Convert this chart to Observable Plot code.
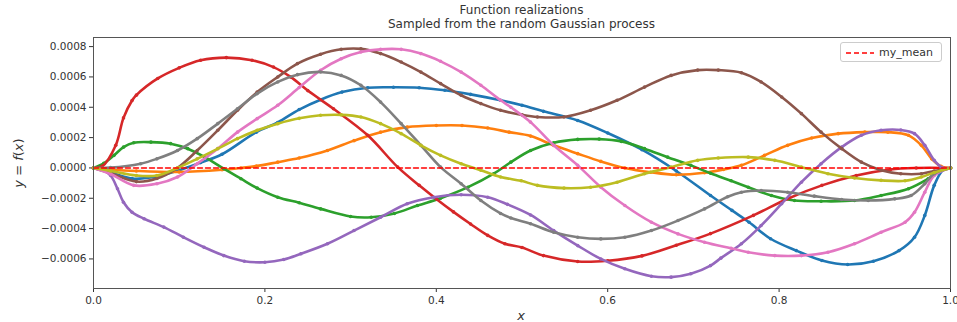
<!DOCTYPE html>
<html>
<head>
<meta charset="utf-8">
<script src="https://cdn.jsdelivr.net/npm/d3@7"></script>
<script src="https://cdn.jsdelivr.net/npm/@observablehq/plot@0.6"></script>
<style>
  html, body { margin: 0; padding: 0; background: #fff; }
  #wrap { position: relative; width: 957px; height: 322px; font-family: "DejaVu Sans", sans-serif; color: #333; }
  .title { position: absolute; left: 93px; width: 857px; text-align: center; font-size: 12px; line-height: 12px; height: 12px; color: #333; }
  .ylab { position: absolute; left: 18px; top: 163px; transform: translate(-50%, -50%) rotate(-90deg); font-size: 13px; white-space: nowrap; color: #333; }
  .xlab { position: absolute; left: 521px; top: 308px; transform: translateX(-50%); font-size: 13px; font-style: italic; color: #333; }
  .legend { position: absolute; left: 840px; top: 42px; width: 102px; height: 20px; border: 1px solid #ccc; border-radius: 3px; background: #fff; box-sizing: border-box; }
  .legend svg { position: absolute; left: 5px; top: 8px; }
  .legend span { position: absolute; left: 38px; top: 3px; font-size: 11px; color: #333; }
</style>
</head>
<body>
<div id="wrap"></div>
<script>
// values in units of 1e-4
const unit = 1e-4;
const blue = [[0,0],[0.02,-0.3],[0.045,-0.7],[0.07,-0.6],[0.1,-0.15],[0.125,0.35],[0.15,0.9],[0.19,2.36],[0.215,3.0],[0.24,3.85],[0.265,4.5],[0.29,5.0],[0.32,5.29],[0.35,5.32],[0.38,5.29],[0.41,5.12],[0.44,4.85],[0.475,4.46],[0.5,4.13],[0.525,3.73],[0.565,3.13],[0.6,2.3],[0.64,1.2],[0.68,-0.2],[0.72,-1.82],[0.745,-2.8],[0.765,-3.58],[0.79,-4.67],[0.82,-5.45],[0.85,-6.1],[0.88,-6.37],[0.91,-6.15],[0.94,-5.45],[0.958,-4.57],[0.97,-3.13],[0.981,-1.15],[0.991,-0.15],[1,0]];
const orange = [[0,0],[0.02,-0.1],[0.05,-0.2],[0.1,-0.27],[0.15,-0.12],[0.172,0],[0.19,0.12],[0.215,0.38],[0.24,0.65],[0.273,1.15],[0.304,1.8],[0.335,2.36],[0.366,2.69],[0.4,2.8],[0.43,2.8],[0.46,2.63],[0.485,2.36],[0.51,2.1],[0.537,1.49],[0.565,0.94],[0.592,0.43],[0.62,0],[0.65,-0.28],[0.68,-0.45],[0.713,-0.32],[0.735,-0.1],[0.756,0.17],[0.783,0.83],[0.81,1.49],[0.838,1.97],[0.869,2.26],[0.9,2.36],[0.927,2.36],[0.951,2.15],[0.966,1.49],[0.978,0.6],[0.989,0.1],[1,0]];
const green = [[0,0],[0.012,0.3],[0.024,0.83],[0.035,1.37],[0.047,1.66],[0.067,1.7],[0.09,1.6],[0.11,1.27],[0.13,0.71],[0.152,-0.05],[0.172,-0.71],[0.191,-1.33],[0.215,-1.93],[0.24,-2.3],[0.265,-2.7],[0.3,-3.2],[0.324,-3.25],[0.351,-3.0],[0.378,-2.48],[0.405,-2.0],[0.437,-1.27],[0.467,-0.38],[0.487,0.38],[0.51,1.15],[0.537,1.66],[0.565,1.88],[0.59,1.9],[0.616,1.75],[0.643,1.27],[0.67,0.71],[0.697,0.17],[0.72,-0.35],[0.744,-0.85],[0.764,-1.27],[0.791,-1.82],[0.818,-2.15],[0.849,-2.2],[0.888,-2.15],[0.919,-1.82],[0.951,-1.37],[0.974,-0.71],[0.989,-0.15],[1,0]];
const red = [[0,0],[0.01,0.1],[0.026,1.5],[0.035,3.3],[0.045,4.45],[0.05,4.8],[0.075,5.9],[0.1,6.6],[0.125,7.1],[0.155,7.27],[0.185,7.1],[0.21,6.65],[0.23,6.0],[0.25,5.1],[0.28,3.9],[0.32,2.15],[0.355,0.05],[0.38,-1.15],[0.4,-2.05],[0.42,-2.9],[0.44,-3.7],[0.46,-4.45],[0.48,-5.0],[0.5,-5.25],[0.525,-5.78],[0.565,-6.17],[0.6,-6.12],[0.64,-5.8],[0.68,-5.1],[0.72,-4.33],[0.77,-3.13],[0.81,-2.03],[0.85,-1.15],[0.89,-0.5],[0.93,-0.1],[0.96,0],[1,0]];
const purple = [[0,0],[0.01,-0.1],[0.02,-0.5],[0.028,-1.37],[0.035,-2.26],[0.045,-2.92],[0.059,-3.35],[0.082,-3.9],[0.105,-4.57],[0.129,-5.23],[0.152,-5.78],[0.176,-6.15],[0.2,-6.22],[0.222,-6.04],[0.242,-5.66],[0.273,-5.0],[0.304,-4.13],[0.335,-3.25],[0.366,-2.36],[0.397,-1.93],[0.429,-1.77],[0.46,-1.93],[0.483,-2.4],[0.51,-3.1],[0.537,-4.13],[0.565,-5.12],[0.592,-6.0],[0.62,-6.65],[0.651,-7.14],[0.674,-7.2],[0.697,-6.98],[0.72,-6.44],[0.732,-5.95],[0.756,-5.0],[0.779,-3.8],[0.803,-2.36],[0.826,-0.94],[0.849,0.28],[0.873,1.37],[0.896,2.15],[0.919,2.48],[0.942,2.5],[0.958,2.26],[0.97,1.49],[0.981,0.5],[0.991,0],[1,0]];
const brown = [[0,0],[0.02,-0.35],[0.05,-0.9],[0.074,-0.7],[0.098,0],[0.121,1.15],[0.145,2.48],[0.168,3.8],[0.191,5.0],[0.215,6.0],[0.238,6.88],[0.265,7.5],[0.289,7.82],[0.312,7.85],[0.335,7.54],[0.359,6.98],[0.382,6.32],[0.405,5.56],[0.429,4.79],[0.452,4.24],[0.475,3.8],[0.5,3.5],[0.518,3.36],[0.549,3.36],[0.58,3.8],[0.611,4.46],[0.643,5.33],[0.674,6.1],[0.705,6.45],[0.729,6.45],[0.756,6.28],[0.779,5.67],[0.803,4.68],[0.826,3.58],[0.849,2.36],[0.873,1.27],[0.896,0.38],[0.919,-0.15],[0.942,-0.38],[0.966,-0.38],[0.981,-0.2],[1,0]];
const pink = [[0,0],[0.02,-0.4],[0.047,-1.15],[0.074,-1.04],[0.098,-0.6],[0.121,0.28],[0.145,1.27],[0.168,2.36],[0.191,3.25],[0.215,4.13],[0.24,5.3],[0.265,6.44],[0.289,7.2],[0.312,7.64],[0.335,7.82],[0.359,7.82],[0.382,7.54],[0.405,7.03],[0.429,6.32],[0.452,5.45],[0.475,4.46],[0.487,4.0],[0.51,3.02],[0.537,1.49],[0.565,0.17],[0.592,-1.27],[0.62,-2.48],[0.651,-3.58],[0.682,-4.35],[0.713,-4.9],[0.744,-5.3],[0.764,-5.56],[0.795,-5.78],[0.826,-5.78],[0.857,-5.56],[0.888,-5.0],[0.919,-4.24],[0.947,-3.58],[0.958,-2.92],[0.97,-1.6],[0.981,-0.5],[1,0]];
const gray = [[0,0],[0.02,0.02],[0.055,0.28],[0.074,0.6],[0.098,1.15],[0.121,1.93],[0.145,2.92],[0.168,3.9],[0.191,4.9],[0.215,5.67],[0.238,6.15],[0.265,6.33],[0.289,6.1],[0.312,5.45],[0.335,4.34],[0.359,2.92],[0.382,1.49],[0.405,0.05],[0.429,-1.04],[0.452,-2.15],[0.475,-3.0],[0.487,-3.3],[0.51,-3.68],[0.537,-4.24],[0.565,-4.57],[0.592,-4.68],[0.62,-4.57],[0.651,-4.13],[0.682,-3.47],[0.713,-2.7],[0.74,-1.9],[0.756,-1.6],[0.779,-1.49],[0.81,-1.6],[0.841,-1.86],[0.873,-2.08],[0.904,-2.15],[0.935,-2.04],[0.954,-1.82],[0.97,-1.04],[0.981,-0.38],[1,0]];
const olive = [[0,0],[0.02,-0.2],[0.05,-0.5],[0.074,-0.5],[0.098,0],[0.121,0.6],[0.145,1.27],[0.168,1.93],[0.191,2.48],[0.215,2.92],[0.24,3.27],[0.265,3.47],[0.289,3.5],[0.312,3.36],[0.335,2.92],[0.359,2.26],[0.382,1.49],[0.405,0.83],[0.429,0.28],[0.452,-0.15],[0.475,-0.6],[0.499,-0.85],[0.518,-1.15],[0.549,-1.33],[0.58,-1.27],[0.611,-0.94],[0.643,-0.38],[0.674,0.05],[0.705,0.5],[0.729,0.65],[0.764,0.71],[0.795,0.5],[0.826,0.05],[0.857,-0.38],[0.888,-0.66],[0.919,-0.82],[0.947,-0.85],[0.966,-0.6],[0.981,-0.3],[1,0]];
const meanLine = [[0,0],[1,0]];

const seriesList = [blue, orange, green, red, purple, brown, pink, gray, olive];
const colors = ["#1f77b4","#ff7f0e","#2ca02c","#d62728","#9467bd","#8c564b","#e377c2","#7f7f7f","#bcbd22"];
const xTicks = [0, 0.2, 0.4, 0.6, 0.8, 1.0];
const yTicks = [-6e-4, -4e-4, -2e-4, 0, 2e-4, 4e-4, 6e-4, 8e-4];
const titleLines = ["Function realizations", "Sampled from the random Gaussian process"];

const marks = [];
seriesList.forEach((s, i) => {
  marks.push(Plot.line(s, {x: d => d[0], y: d => d[1] * unit, stroke: colors[i], strokeWidth: 2.6, curve: "catmull-rom"}));
  marks.push(Plot.dot(s, {x: d => d[0], y: d => d[1] * unit, fill: colors[i], r: 1.8}));
});
marks.push(Plot.line(meanLine, {x: d => d[0], y: d => d[1] * unit, stroke: "#ff0000", strokeWidth: 1.4, strokeDasharray: "5,3"}));

const fmt = d => (d < 0 ? "\u2212" : "") + Math.abs(d).toFixed(4);

const chart = Plot.plot({
  width: 957,
  height: 322,
  marginLeft: 93,
  marginRight: 7,
  marginTop: 37,
  marginBottom: 34,
  style: {fontFamily: "DejaVu Sans", fontSize: "10.5px", color: "#333", background: "#fff"},
  x: {domain: [0, 1]},
  y: {domain: [-7.95e-4, 8.6e-4]},
  marks: [
    Plot.axisX({ticks: xTicks, tickFormat: d => d.toFixed(1), tickSize: 4, tickPadding: 4, label: null}),
    Plot.axisY({ticks: yTicks, tickFormat: fmt, tickSize: 4, tickPadding: 3, label: null}),
    ...marks,
    Plot.frame({stroke: "#555", strokeWidth: 1})
  ]
});

const wrap = document.getElementById("wrap");
wrap.appendChild(chart);

titleLines.forEach((t, i) => {
  const d = document.createElement("div");
  d.className = "title";
  d.style.top = (4 + i * 14) + "px";
  d.textContent = t;
  wrap.appendChild(d);
});

const yl = document.createElement("div");
yl.className = "ylab";
yl.innerHTML = "<i>y</i> = <i>f</i>(<i>x</i>)";
wrap.appendChild(yl);

const xl = document.createElement("div");
xl.className = "xlab";
xl.textContent = "x";
wrap.appendChild(xl);

const lg = document.createElement("div");
lg.className = "legend";
lg.innerHTML = '<svg width="28" height="4"><line x1="0" y1="2" x2="28" y2="2" stroke="#ff0000" stroke-width="1.4" stroke-dasharray="5,3"/></svg><span>my_mean</span>';
wrap.appendChild(lg);
</script>
</body>
</html>
